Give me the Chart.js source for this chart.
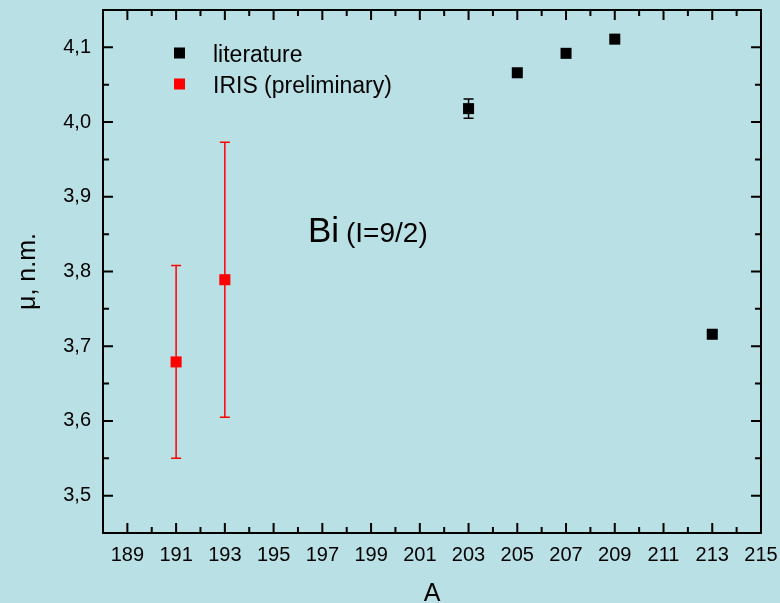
<!DOCTYPE html>
<html>
<head>
<meta charset="utf-8">
<script src="https://cdn.jsdelivr.net/npm/chart.js@4/dist/chart.umd.min.js"></script>
<style>
  html, body { margin: 0; padding: 0; background: #b9e0e4; }
  #wrap { width: 780px; height: 603px; }
</style>
</head>
<body>
<div id="wrap"><canvas id="c" width="780" height="603"></canvas></div>
<script>
// data
const litA = [203, 205, 207, 209, 213];
const litMu = [4.018, 4.066, 4.092, 4.111, 3.716];
const litErr = [0.013, 0, 0, 0, 0];

const irisA = [191, 193];
const irisMu = [3.679, 3.789];
const irisErr = [0.129, 0.184];

// tick labels
const xTicks = [189, 191, 193, 195, 197, 199, 201, 203, 205, 207, 209, 211, 213, 215];
const yTicks = [3.5, 3.6, 3.7, 3.8, 3.9, 4.0, 4.1];

const FONT = '"Liberation Sans", Arial, sans-serif';

// no extra room for overhanging tick labels
function noPad(s) {
    s.paddingTop = 0; s.paddingBottom = 0;
    s.paddingLeft = 0; s.paddingRight = 0;
}

// error bars, drawn through the scales
const errorBars = {
    id: 'errorBars',
    beforeDatasetsDraw(chart) {
        const ctx = chart.ctx;
        const xs = chart.scales.x, ys = chart.scales.y;
        chart.data.datasets.forEach(ds => {
            if (!ds.err) return;
            ctx.save();
            ctx.strokeStyle = ds.backgroundColor;
            ctx.lineWidth = 1.5;
            ds.data.forEach((p, i) => {
                const e = ds.err[i];
                if (!e) return;
                const x = xs.getPixelForValue(p.x);
                const y1 = ys.getPixelForValue(p.y + e);
                const y2 = ys.getPixelForValue(p.y - e);
                ctx.beginPath();
                ctx.moveTo(x, y1); ctx.lineTo(x, y2);
                ctx.moveTo(x - 5, y1); ctx.lineTo(x + 5, y1);
                ctx.moveTo(x - 5, y2); ctx.lineTo(x + 5, y2);
                ctx.stroke();
            });
            ctx.restore();
        });
    }
};

// frame with inward ticks on all four sides
const frame = {
    id: 'frame',
    afterDraw(chart) {
        const ctx = chart.ctx;
        const a = chart.chartArea;
        const xs = chart.scales.x, ys = chart.scales.y;
        ctx.save();
        ctx.strokeStyle = '#000';
        ctx.lineWidth = 2;
        ctx.strokeRect(a.left, a.top, a.right - a.left, a.bottom - a.top);
        ctx.beginPath();
        xTicks.forEach(v => {
            const x = xs.getPixelForValue(v);
            ctx.moveTo(x, a.bottom); ctx.lineTo(x, a.bottom - 10);
            ctx.moveTo(x, a.top); ctx.lineTo(x, a.top + 10);
            const m = xs.getPixelForValue(v + 1);
            if (v + 1 < xs.max) {
                ctx.moveTo(m, a.bottom); ctx.lineTo(m, a.bottom - 6);
                ctx.moveTo(m, a.top); ctx.lineTo(m, a.top + 6);
            }
        });
        yTicks.forEach(v => {
            const y = ys.getPixelForValue(v);
            ctx.moveTo(a.left, y); ctx.lineTo(a.left + 10, y);
            ctx.moveTo(a.right, y); ctx.lineTo(a.right - 10, y);
            const m = ys.getPixelForValue(v - 0.05);
            ctx.moveTo(a.left, m); ctx.lineTo(a.left + 6, m);
            ctx.moveTo(a.right, m); ctx.lineTo(a.right - 6, m);
        });
        const top = ys.getPixelForValue(4.15 - 0.1 + 0.05);
        ctx.moveTo(a.left, top); ctx.lineTo(a.left + 6, top);
        ctx.moveTo(a.right, top); ctx.lineTo(a.right - 6, top);
        ctx.stroke();
        ctx.restore();
    }
};

// legend and annotation inside the plot
const notes = {
    id: 'notes',
    afterDraw(chart) {
        const ctx = chart.ctx;
        const a = chart.chartArea;
        ctx.save();
        chart.data.datasets.forEach((ds, i) => {
            const cy = a.top + 43 + i * 31;
            ctx.fillStyle = ds.backgroundColor;
            ctx.fillRect(a.left + 71, cy - 5.5, 11, 11);
            ctx.fillStyle = '#000';
            ctx.font = '23px ' + FONT;
            ctx.textBaseline = 'alphabetic';
            ctx.fillText(ds.label, a.left + 110, cy + 9);
        });
        ctx.font = '35px ' + FONT;
        ctx.fillText('Bi', 308, 242);
        ctx.font = '28px ' + FONT;
        ctx.fillText('(I=9/2)', 346, 242);
        ctx.restore();
    }
};

new Chart(document.getElementById('c'), {
    type: 'scatter',
    data: {
        datasets: [
            {
                label: 'literature',
                data: litA.map((a, i) => ({ x: a, y: litMu[i] })),
                err: litErr,
                backgroundColor: '#000000',
                borderWidth: 0,
                pointStyle: 'rect',
                pointRadius: 7.8,
                pointHoverRadius: 7.8
            },
            {
                label: 'IRIS (preliminary)',
                data: irisA.map((a, i) => ({ x: a, y: irisMu[i] })),
                err: irisErr,
                backgroundColor: '#ff0000',
                borderWidth: 0,
                pointStyle: 'rect',
                pointRadius: 7.8,
                pointHoverRadius: 7.8
            }
        ]
    },
    options: {
        responsive: false,
        animation: false,
        layout: { padding: { top: 10, right: 19, bottom: 0, left: 0 } },
        plugins: { legend: { display: false }, tooltip: { enabled: false } },
        scales: {
            x: {
                type: 'linear',
                min: 188,
                max: 215,
                afterBuildTicks(s) { s.ticks = xTicks.map(v => ({ value: v })); },
                afterFit(s) { s.height = 70; noPad(s); },
                grid: { display: false, drawTicks: false },
                border: { display: false },
                ticks: { color: '#000', font: { family: FONT, size: 20 }, padding: 10, maxRotation: 0, autoSkip: false },
                title: { display: true, text: 'A', color: '#000', font: { family: FONT, size: 25, lineHeight: 0.68 }, padding: 0 }
            },
            y: {
                type: 'linear',
                min: 3.45,
                max: 4.15,
                afterBuildTicks(s) { s.ticks = yTicks.map(v => ({ value: v })); },
                afterFit(s) { s.width = 103; noPad(s); },
                grid: { display: false, drawTicks: false },
                border: { display: false },
                ticks: {
                    color: '#000',
                    font: { family: FONT, size: 20 },
                    padding: 12,
                    callback: v => v.toFixed(1).replace('.', ',')
                },
                title: { display: true, text: 'μ, n.m.', color: '#000', font: { family: FONT, size: 25, lineHeight: 1 }, padding: { top: 16 } }
            }
        }
    },
    plugins: [errorBars, frame, notes]
});
</script>
</body>
</html>
